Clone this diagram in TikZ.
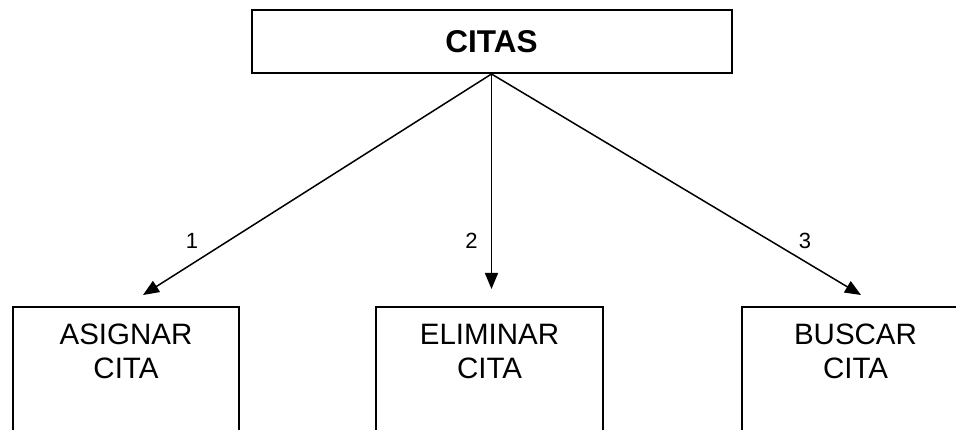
\documentclass[tikz,border=0pt]{standalone}
\usepackage{fontspec}
\setmainfont{Liberation Sans}
\usetikzlibrary{arrows.meta}
\begin{document}
\begin{tikzpicture}[x=1pt,y=-1pt,
  boxline/.style={draw=black,line width=2pt},
  topbox/.style={boxline,rectangle,minimum width=480pt,minimum height=63pt,inner sep=0pt,
    font=\fontsize{31.5}{34}\selectfont\bfseries},
  leafbox/.style={boxline,rectangle,inner sep=0pt,anchor=north,
    font=\fontsize{29.5}{34}\selectfont},
  conn/.style={line width=1.5pt,-{Triangle[length=16pt,width=13pt]}},
  num/.style={font=\fontsize{22}{24}\selectfont,inner sep=0pt}]
\useasboundingbox (0,0) rectangle (956,430);
\clip (0,0) rectangle (956,430);
\fill[white] (0,0) rectangle (956,430);

\node[topbox] (top) at (491.5,41.5) {CITAS};

\node[leafbox] (a) at (126,306) {\parbox[t][160pt][t]{226pt}{\vspace*{17pt}\centering ASIGNAR\\CITA}};
\node[leafbox] (b) at (489.5,306) {\parbox[t][160pt][t]{227pt}{\vspace*{17pt}\centering ELIMINAR\\CITA}};
\node[leafbox] (c) at (855.5,306) {\parbox[t][160pt][t]{227pt}{\vspace*{17pt}\centering BUSCAR\\CITA}};

\coordinate (t1) at (143,295);
\coordinate (t2) at (491.5,289);
\coordinate (t3) at (861,295);

\draw[conn] (top.south) -- (t1);
\draw[conn] (top.south) -- (t2);
\draw[conn] (top.south) -- (t3);

\node[num] (n1) at (192,241) {1};
\node[num] (n2) at (471.5,241) {2};
\node[num] (n3) at (805,241) {3};
\end{tikzpicture}
\end{document}
